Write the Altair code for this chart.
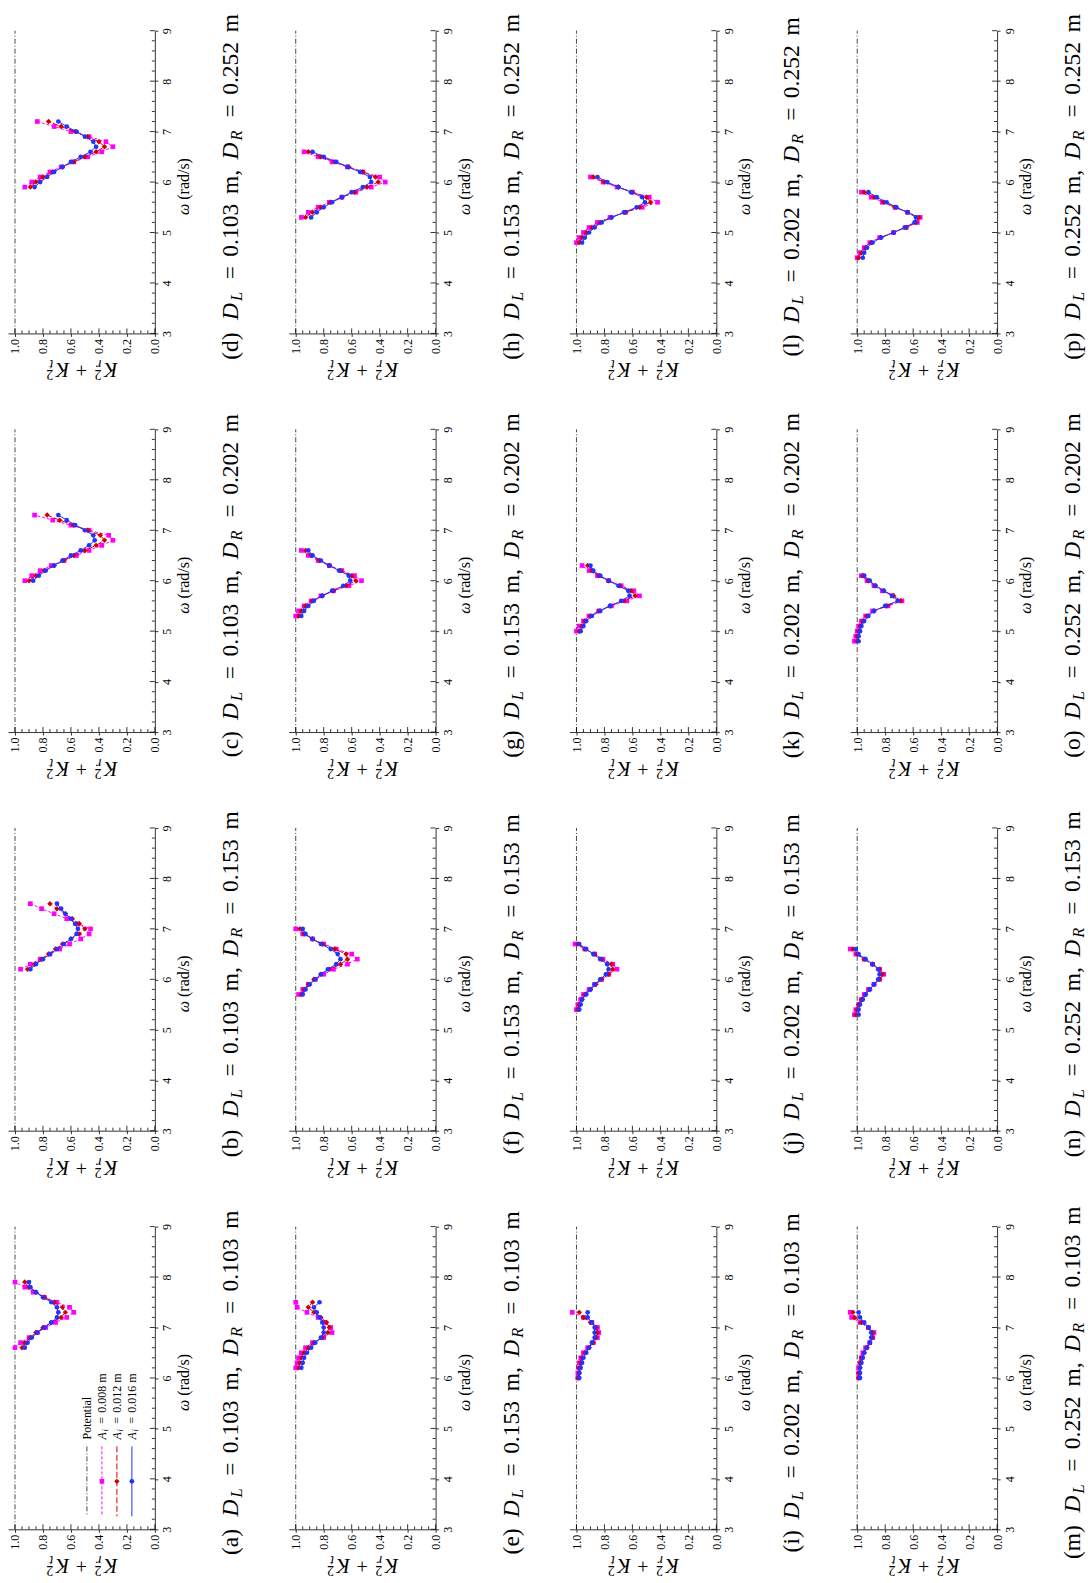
import altair as alt
import pandas as pd

# ---------------------------------------------------------------------------
# K_r^2 + K_t^2 versus wave frequency for the 16 diameter combinations.
# Each panel: frequency grid (rad/s) and the three incident amplitudes.
# ---------------------------------------------------------------------------
omega_a = [6.6, 6.7, 6.8, 6.9, 7.0, 7.1, 7.2, 7.3, 7.4, 7.5, 7.6, 7.7, 7.8, 7.9]
a_008 = [1.00, 0.96, 0.90, 0.84, 0.78, 0.71, 0.63, 0.58, 0.61, 0.70, 0.79, 0.87, 0.93, 1.00]
a_012 = [0.95, 0.93, 0.89, 0.85, 0.80, 0.74, 0.67, 0.64, 0.66, 0.72, 0.79, 0.85, 0.90, 0.93]
a_016 = [0.93, 0.91, 0.88, 0.84, 0.79, 0.74, 0.70, 0.69, 0.70, 0.74, 0.80, 0.85, 0.89, 0.90]

omega_b = [6.2, 6.3, 6.4, 6.5, 6.6, 6.7, 6.8, 6.9, 7.0, 7.1, 7.2, 7.3, 7.4, 7.5]
b_008 = [0.96, 0.89, 0.82, 0.75, 0.68, 0.61, 0.53, 0.47, 0.46, 0.55, 0.63, 0.72, 0.81, 0.89]
b_012 = [0.91, 0.86, 0.81, 0.76, 0.71, 0.66, 0.60, 0.54, 0.50, 0.54, 0.59, 0.64, 0.70, 0.75]
b_016 = [0.89, 0.85, 0.80, 0.75, 0.70, 0.65, 0.60, 0.56, 0.55, 0.57, 0.60, 0.64, 0.67, 0.70]

omega_c = [6.0, 6.1, 6.2, 6.3, 6.4, 6.5, 6.6, 6.7, 6.8, 6.9, 7.0, 7.1, 7.2, 7.3]
c_008 = [0.93, 0.88, 0.82, 0.74, 0.65, 0.56, 0.47, 0.38, 0.30, 0.33, 0.47, 0.60, 0.73, 0.86]
c_012 = [0.90, 0.85, 0.79, 0.72, 0.65, 0.58, 0.50, 0.42, 0.36, 0.39, 0.48, 0.58, 0.68, 0.77]
c_016 = [0.87, 0.83, 0.78, 0.72, 0.66, 0.60, 0.53, 0.47, 0.43, 0.44, 0.50, 0.57, 0.63, 0.69]

omega_d = [5.9, 6.0, 6.1, 6.2, 6.3, 6.4, 6.5, 6.6, 6.7, 6.8, 6.9, 7.0, 7.1, 7.2]
d_008 = [0.93, 0.88, 0.82, 0.75, 0.67, 0.58, 0.48, 0.38, 0.30, 0.35, 0.47, 0.60, 0.72, 0.84]
d_012 = [0.89, 0.85, 0.80, 0.73, 0.66, 0.58, 0.50, 0.42, 0.36, 0.40, 0.48, 0.57, 0.67, 0.76]
d_016 = [0.86, 0.82, 0.77, 0.72, 0.66, 0.60, 0.53, 0.46, 0.42, 0.44, 0.50, 0.56, 0.63, 0.69]

omega_e = [6.2, 6.3, 6.4, 6.5, 6.6, 6.7, 6.8, 6.9, 7.0, 7.1, 7.2, 7.3, 7.4, 7.5]
e_008 = [1.00, 0.99, 0.98, 0.96, 0.93, 0.88, 0.80, 0.74, 0.75, 0.79, 0.84, 0.92, 0.99, 1.00]
e_012 = [0.98, 0.97, 0.96, 0.94, 0.91, 0.87, 0.81, 0.77, 0.76, 0.78, 0.82, 0.87, 0.91, 0.88]
e_016 = [0.96, 0.95, 0.94, 0.92, 0.89, 0.86, 0.82, 0.80, 0.80, 0.81, 0.83, 0.85, 0.87, 0.83]

omega_f = [5.7, 5.8, 5.9, 6.0, 6.1, 6.2, 6.3, 6.4, 6.5, 6.6, 6.7, 6.8, 6.9, 7.0]
f_008 = [0.98, 0.95, 0.91, 0.86, 0.80, 0.73, 0.63, 0.56, 0.60, 0.71, 0.80, 0.88, 0.95, 1.00]
f_012 = [0.96, 0.94, 0.91, 0.87, 0.82, 0.76, 0.68, 0.63, 0.64, 0.72, 0.81, 0.88, 0.94, 0.97]
f_016 = [0.95, 0.93, 0.90, 0.86, 0.82, 0.77, 0.71, 0.68, 0.70, 0.75, 0.82, 0.88, 0.93, 0.95]

omega_g = [5.3, 5.4, 5.5, 5.6, 5.7, 5.8, 5.9, 6.0, 6.1, 6.2, 6.3, 6.4, 6.5, 6.6]
g_008 = [1.00, 0.98, 0.94, 0.89, 0.82, 0.73, 0.62, 0.53, 0.58, 0.67, 0.76, 0.84, 0.91, 0.96]
g_012 = [0.98, 0.96, 0.93, 0.88, 0.81, 0.73, 0.64, 0.57, 0.60, 0.68, 0.76, 0.83, 0.89, 0.93]
g_016 = [0.96, 0.94, 0.91, 0.87, 0.81, 0.74, 0.66, 0.61, 0.62, 0.69, 0.76, 0.82, 0.88, 0.91]

omega_h = [5.3, 5.4, 5.5, 5.6, 5.7, 5.8, 5.9, 6.0, 6.1, 6.2, 6.3, 6.4, 6.5, 6.6]
h_008 = [0.96, 0.91, 0.84, 0.76, 0.67, 0.57, 0.46, 0.36, 0.40, 0.52, 0.63, 0.74, 0.84, 0.94]
h_012 = [0.93, 0.88, 0.82, 0.75, 0.67, 0.58, 0.49, 0.41, 0.43, 0.52, 0.62, 0.72, 0.82, 0.91]
h_016 = [0.89, 0.85, 0.80, 0.74, 0.67, 0.60, 0.52, 0.46, 0.47, 0.54, 0.63, 0.71, 0.80, 0.88]

omega_i = [6.0, 6.1, 6.2, 6.3, 6.4, 6.5, 6.6, 6.7, 6.8, 6.9, 7.0, 7.1, 7.2, 7.3]
i_008 = [0.99, 0.99, 0.98, 0.98, 0.97, 0.95, 0.92, 0.88, 0.85, 0.84, 0.85, 0.89, 0.95, 1.03]
i_012 = [0.99, 0.98, 0.98, 0.97, 0.96, 0.94, 0.91, 0.88, 0.86, 0.85, 0.86, 0.90, 0.95, 0.98]
i_016 = [0.98, 0.98, 0.97, 0.96, 0.95, 0.93, 0.91, 0.89, 0.87, 0.87, 0.87, 0.89, 0.92, 0.92]

omega_j = [5.4, 5.5, 5.6, 5.7, 5.8, 5.9, 6.0, 6.1, 6.2, 6.3, 6.4, 6.5, 6.6, 6.7]
j_008 = [1.00, 0.99, 0.97, 0.95, 0.91, 0.87, 0.82, 0.77, 0.71, 0.74, 0.81, 0.87, 0.94, 1.01]
j_012 = [0.99, 0.98, 0.96, 0.94, 0.90, 0.86, 0.82, 0.77, 0.74, 0.75, 0.82, 0.87, 0.94, 0.99]
j_016 = [0.98, 0.97, 0.96, 0.93, 0.90, 0.87, 0.83, 0.79, 0.77, 0.78, 0.83, 0.88, 0.93, 0.98]

omega_k = [5.0, 5.1, 5.2, 5.3, 5.4, 5.5, 5.6, 5.7, 5.8, 5.9, 6.0, 6.1, 6.2, 6.3]
k_008 = [1.00, 0.98, 0.95, 0.91, 0.84, 0.75, 0.64, 0.55, 0.59, 0.68, 0.77, 0.85, 0.91, 0.96]
k_012 = [0.98, 0.96, 0.94, 0.90, 0.84, 0.76, 0.66, 0.58, 0.61, 0.69, 0.77, 0.84, 0.89, 0.92]
k_016 = [0.97, 0.95, 0.93, 0.89, 0.83, 0.76, 0.68, 0.62, 0.63, 0.70, 0.77, 0.83, 0.88, 0.90]

omega_l = [4.8, 4.9, 5.0, 5.1, 5.2, 5.3, 5.4, 5.5, 5.6, 5.7, 5.8, 5.9, 6.0, 6.1]
l_008 = [1.00, 0.98, 0.95, 0.91, 0.85, 0.76, 0.65, 0.53, 0.42, 0.48, 0.60, 0.71, 0.81, 0.90]
l_012 = [0.98, 0.96, 0.93, 0.89, 0.83, 0.75, 0.65, 0.55, 0.47, 0.50, 0.60, 0.70, 0.80, 0.88]
l_016 = [0.96, 0.94, 0.91, 0.87, 0.82, 0.75, 0.66, 0.57, 0.51, 0.53, 0.61, 0.70, 0.78, 0.85]

omega_m = [6.0, 6.1, 6.2, 6.3, 6.4, 6.5, 6.6, 6.7, 6.8, 6.9, 7.0, 7.1, 7.2, 7.3]
m_008 = [0.99, 0.99, 0.99, 0.98, 0.97, 0.96, 0.94, 0.91, 0.89, 0.88, 0.92, 0.98, 1.04, 1.05]
m_012 = [0.99, 0.99, 0.98, 0.98, 0.97, 0.95, 0.93, 0.91, 0.89, 0.89, 0.92, 0.97, 1.02, 1.03]
m_016 = [0.98, 0.98, 0.98, 0.97, 0.96, 0.95, 0.93, 0.91, 0.90, 0.90, 0.92, 0.95, 0.98, 0.99]

omega_n = [5.3, 5.4, 5.5, 5.6, 5.7, 5.8, 5.9, 6.0, 6.1, 6.2, 6.3, 6.4, 6.5, 6.6]
n_008 = [1.02, 1.01, 0.99, 0.97, 0.95, 0.92, 0.88, 0.84, 0.81, 0.84, 0.89, 0.95, 1.01, 1.05]
n_012 = [1.01, 1.00, 0.99, 0.97, 0.94, 0.91, 0.88, 0.84, 0.82, 0.84, 0.89, 0.95, 1.00, 1.03]
n_016 = [0.99, 0.99, 0.98, 0.96, 0.94, 0.91, 0.88, 0.85, 0.84, 0.85, 0.89, 0.94, 0.99, 1.01]

omega_o = [4.8, 4.9, 5.0, 5.1, 5.2, 5.3, 5.4, 5.5, 5.6, 5.7, 5.8, 5.9, 6.0, 6.1]
o_008 = [1.02, 1.01, 1.00, 0.99, 0.97, 0.94, 0.89, 0.78, 0.68, 0.75, 0.82, 0.88, 0.93, 0.97]
o_012 = [1.00, 1.00, 0.99, 0.98, 0.96, 0.93, 0.88, 0.79, 0.69, 0.74, 0.81, 0.87, 0.92, 0.96]
o_016 = [0.99, 0.99, 0.98, 0.97, 0.95, 0.92, 0.88, 0.80, 0.71, 0.75, 0.81, 0.87, 0.91, 0.95]

omega_p = [4.5, 4.6, 4.7, 4.8, 4.9, 5.0, 5.1, 5.2, 5.3, 5.4, 5.5, 5.6, 5.7, 5.8]
p_008 = [1.00, 0.98, 0.95, 0.91, 0.84, 0.74, 0.65, 0.57, 0.55, 0.64, 0.73, 0.82, 0.90, 0.97]
p_012 = [0.99, 0.97, 0.94, 0.90, 0.83, 0.74, 0.65, 0.58, 0.56, 0.64, 0.73, 0.81, 0.88, 0.95]
p_016 = [0.96, 0.95, 0.93, 0.89, 0.83, 0.74, 0.66, 0.59, 0.58, 0.64, 0.72, 0.79, 0.86, 0.92]

# potential-flow reference (energy conserved)
potential_omega = [3.0, 9.0]
potential_k = [1.0, 1.0]

# axis ticks
k_major = [0.0, 0.2, 0.4, 0.6, 0.8, 1.0]
k_minor = [0.05, 0.1, 0.15, 0.25, 0.3, 0.35, 0.45, 0.5, 0.55, 0.65, 0.7, 0.75, 0.85, 0.9, 0.95]
w_major = [3, 4, 5, 6, 7, 8, 9]
w_minor = [3.2, 3.4, 3.6, 3.8, 4.2, 4.4, 4.6, 4.8, 5.2, 5.4, 5.6, 5.8,
           6.2, 6.4, 6.6, 6.8, 7.2, 7.4, 7.6, 7.8, 8.2, 8.4, 8.6, 8.8]

# panel letter, D_L, D_R and its series
PANELS = [
    ("a", 0.103, 0.103, omega_a, a_008, a_012, a_016),
    ("b", 0.103, 0.153, omega_b, b_008, b_012, b_016),
    ("c", 0.103, 0.202, omega_c, c_008, c_012, c_016),
    ("d", 0.103, 0.252, omega_d, d_008, d_012, d_016),
    ("e", 0.153, 0.103, omega_e, e_008, e_012, e_016),
    ("f", 0.153, 0.153, omega_f, f_008, f_012, f_016),
    ("g", 0.153, 0.202, omega_g, g_008, g_012, g_016),
    ("h", 0.153, 0.252, omega_h, h_008, h_012, h_016),
    ("i", 0.202, 0.103, omega_i, i_008, i_012, i_016),
    ("j", 0.202, 0.153, omega_j, j_008, j_012, j_016),
    ("k", 0.202, 0.202, omega_k, k_008, k_012, k_016),
    ("l", 0.202, 0.252, omega_l, l_008, l_012, l_016),
    ("m", 0.252, 0.103, omega_m, m_008, m_012, m_016),
    ("n", 0.252, 0.153, omega_n, n_008, n_012, n_016),
    ("o", 0.252, 0.202, omega_o, o_008, o_012, o_016),
    ("p", 0.252, 0.252, omega_p, p_008, p_012, p_016),
]
AMPLITUDES = ["0.008", "0.012", "0.016"]

# ---------------------------------------------------------------------------
# styling / geometry (the page is turned a quarter turn: K runs right-to-left
# along the bottom, omega runs upward on the right)
# ---------------------------------------------------------------------------
FONT = "Liberation Serif"
W, H = 147, 303
STYLES = [
    {"color": "#ff00ff", "dash": [3, 2], "shape": "square", "size": 22},
    {"color": "#d40000", "dash": [6, 2.5], "shape": "diamond", "size": 30},
    {"color": "#2233ff", "dash": None, "shape": "circle", "size": 22},
]
POT_COLOR = "#1a1a1a"
POT_DASH = [5, 2, 1, 2]

XS = alt.Scale(domain=[0, 1.05], reverse=True, nice=False, zero=False)
YS = alt.Scale(domain=[3, 9], nice=False, zero=False)
X_AXIS = alt.Axis(values=k_major, format=".1f", labelAngle=270, labelAlign="right",
                  labelBaseline="middle", labelPadding=2, tickSize=3, title=None,
                  grid=False, labelFlush=False, labelOverlap=False)
Y_AXIS = alt.Axis(orient="right", values=w_major, format="d", labelAngle=270,
                  labelAlign="center", labelBaseline="top", labelPadding=4, tickSize=3,
                  title=None, grid=False, labelFlush=False, labelOverlap=False)


def xk():
    return alt.X("K:Q", scale=XS, axis=X_AXIS)


def yw():
    return alt.Y("omega:Q", scale=YS, axis=Y_AXIS)


ONE = pd.DataFrame({"n": [0]})

# Computer-Modern-like advance widths (em) for the caption letters
CM_LETTER = {"a": .5, "b": .556, "c": .444, "d": .556, "e": .444, "f": .306,
             "g": .5, "h": .556, "i": .278, "j": .306, "k": .528, "l": .278,
             "m": .833, "n": .556, "o": .5, "p": .556}


def text_mark(s, x, y, size, style="normal", align="left", baseline="alphabetic", angle=270):
    return alt.Chart(ONE).mark_text(
        text=s, angle=angle, align=align, baseline=baseline, font=FONT,
        fontSize=size, fontStyle=style, color="black",
    ).encode(x=alt.value(x), y=alt.value(y))


def caption_marks(letter, dl, dr):
    f = 24.0
    big, small = 23.5, 16.5
    lw = (0.778 + CM_LETTER[letter]) * f
    space, dw, thick, eqw = 0.333 * f, 0.828 * f, 0.278 * f, 0.778 * f
    numw, mw, comw = 2.278 * f, 0.833 * f, 0.278 * f
    lsub, rsub = 0.681 * 0.7 * f, 0.759 * 0.7 * f
    total = lw + 13.164 * f
    y0 = H / 2 + 4 + total / 2
    xb = 230
    s_d1 = lw + space
    s_l = s_d1 + dw - 1
    s_eq1 = s_d1 + dw + lsub + thick + eqw / 2
    s_n1 = s_d1 + dw + lsub + 2 * thick + eqw
    s_m1 = s_n1 + numw + space
    s_d2 = s_m1 + mw + comw + space
    s_r = s_d2 + dw - 1
    s_eq2 = s_d2 + dw + rsub + thick + eqw / 2
    s_n2 = s_d2 + dw + rsub + 2 * thick + eqw
    s_m2 = s_n2 + numw + space
    return [
        text_mark(f"({letter})", xb, y0, big),
        text_mark("D", xb, y0 - s_d1, big, "italic"),
        text_mark("L", xb + 4, y0 - s_l, small, "italic"),
        text_mark("=", xb, y0 - s_eq1, big, align="center"),
        text_mark(f"{dl:.3f}", xb, y0 - s_n1, big),
        text_mark("m,", xb, y0 - s_m1, big),
        text_mark("D", xb, y0 - s_d2, big, "italic"),
        text_mark("R", xb + 4, y0 - s_r, small, "italic"),
        text_mark("=", xb, y0 - s_eq2, big, align="center"),
        text_mark(f"{dr:.3f}", xb, y0 - s_n2, big),
        text_mark("m", xb, y0 - s_m2, big),
    ]


def k_title_marks():
    # K_r^2 + K_t^2, upside down under the K axis
    xc = (1.05 - 0.525) * W / 1.05
    xs = xc + 36.2
    yb = H + 30
    return [
        text_mark("K", xs, yb, 20, "italic", angle=180),
        text_mark("r", xs - 16, yb - 3, 14, "italic", angle=180),
        text_mark("2", xs - 16, yb + 7, 14, angle=180),
        text_mark("+", xc, yb, 20, align="center", angle=180),
        text_mark("K", xs - 48.4, yb, 20, "italic", angle=180),
        text_mark("t", xs - 64.4, yb - 3, 14, "italic", angle=180),
        text_mark("2", xs - 64.4, yb + 7, 14, angle=180),
    ]


def omega_title_marks():
    y0 = H / 2 + 33
    return [
        text_mark("\u03c9", 181, y0, 16, "italic"),
        text_mark("(rad/s)", 181, y0 - 15.3, 16),
    ]


def legend_marks():
    out = []
    xs_ = [79, 94, 109, 124]
    y_top, y_bot, y_mark, y_txt = 220, 290, 255, 213
    out.append(alt.Chart(ONE).mark_rule(color=POT_COLOR, strokeWidth=0.8, strokeDash=POT_DASH)
               .encode(x=alt.value(xs_[0]), y=alt.value(y_top), y2=alt.value(y_bot)))
    out.append(text_mark("Potential", xs_[0] + 4, y_txt, 12))
    for xi, st, amp in zip(xs_[1:], STYLES, AMPLITUDES):
        rule_kw = dict(color=st["color"], strokeWidth=1)
        if st["dash"]:
            rule_kw["strokeDash"] = st["dash"]
        out.append(alt.Chart(ONE).mark_rule(**rule_kw)
                   .encode(x=alt.value(xi), y=alt.value(y_top), y2=alt.value(y_bot)))
        out.append(alt.Chart(ONE).mark_point(shape=st["shape"], size=st["size"], filled=True,
                                             opacity=1, color=st["color"])
                   .encode(x=alt.value(xi), y=alt.value(y_mark)))
        out.append(text_mark("A", xi + 4, y_txt, 12, "italic"))
        out.append(text_mark("i", xi + 6.5, y_txt - 7.8, 8.5, "italic"))
        out.append(text_mark("=", xi + 4, y_txt - 19.1, 12, align="center"))
        out.append(text_mark(f"{amp} m", xi + 4, y_txt - 26.7, 12))
    return out


def panel(letter, dl, dr, omega, s1, s2, s3, legend=False):
    layers = []
    pot = pd.DataFrame({"K": potential_k, "omega": potential_omega})
    layers.append(
        alt.Chart(pot).mark_line(color=POT_COLOR, strokeWidth=0.8, strokeDash=POT_DASH)
        .encode(x=xk(), y=yw(), order=alt.Order("omega:Q"))
    )
    for vals, st in zip((s1, s2, s3), STYLES):
        df = pd.DataFrame({"K": vals, "omega": omega})
        line_kw = dict(color=st["color"], strokeWidth=1)
        if st["dash"]:
            line_kw["strokeDash"] = st["dash"]
        layers.append(alt.Chart(df).mark_line(**line_kw)
                      .encode(x=xk(), y=yw(), order=alt.Order("omega:Q")))
        layers.append(alt.Chart(df).mark_point(shape=st["shape"], size=st["size"], filled=True,
                                               opacity=1, color=st["color"])
                      .encode(x=xk(), y=yw()))
    # inward ticks on both axes
    for vals, ln in ((k_major, 5), (k_minor, 3)):
        layers.append(alt.Chart(pd.DataFrame({"K": vals})).mark_rule(color="black", strokeWidth=0.8)
                      .encode(x=xk(), y=alt.value(H), y2=alt.value(H - ln)))
    for vals, ln in ((w_major, 5), (w_minor, 3)):
        layers.append(alt.Chart(pd.DataFrame({"omega": vals})).mark_rule(color="black", strokeWidth=0.8)
                      .encode(y=yw(), x=alt.value(W), x2=alt.value(W - ln)))
    layers += omega_title_marks()
    layers += k_title_marks()
    layers += caption_marks(letter, dl, dr)
    if legend:
        layers += legend_marks()
    return alt.layer(*layers).properties(width=W, height=H)


charts = {p[0]: panel(*p, legend=(p[0] == "a")) for p in PANELS}
grid_order = ["d", "h", "l", "p", "c", "g", "k", "o", "b", "f", "j", "n", "a", "e", "i", "m"]

chart = alt.concat(
    *[charts[k] for k in grid_order],
    columns=4,
    spacing={"row": 96, "column": 134},
    bounds="flush",
).properties(
    padding={"left": 8, "top": 13, "right": 0, "bottom": 0},
).configure_axis(
    labelFont=FONT, labelFontSize=12, labelColor="black",
    domainColor="black", tickColor="black", domainWidth=0.8, tickWidth=0.8,
).configure_view(stroke=None)

chart.save("out.html", embed_options={"renderer": "svg", "actions": False})
